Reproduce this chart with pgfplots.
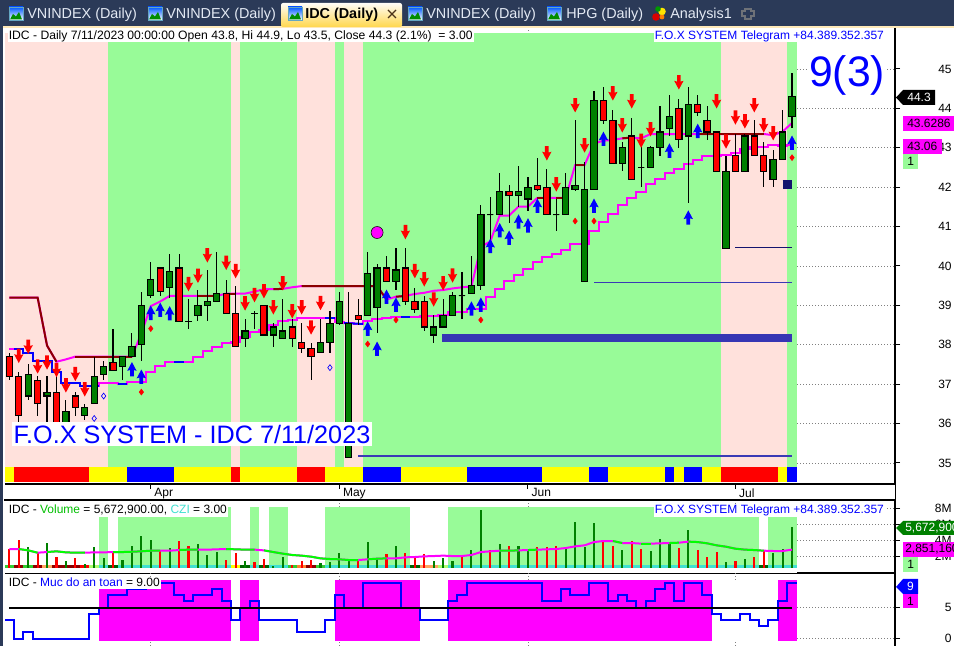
\documentclass[border=0pt]{standalone}
\usepackage{fontspec}
\setmainfont{Liberation Sans}
\usepackage{pgfplots}
\pgfplotsset{compat=1.18}
\usepgfplotslibrary{statistics}

\definecolor{magenta}{HTML}{FF00FF}
\definecolor{yellow}{HTML}{FFFF00}
\definecolor{green}{HTML}{00FF00}
\definecolor{navybar}{HTML}{2B3A58}
\definecolor{cream}{HTML}{FFE9B8}
\definecolor{bandg}{HTML}{98FB98}
\definecolor{bandp}{HTML}{FFE1DC}
\definecolor{cgreen}{HTML}{008000}
\definecolor{dred}{HTML}{8B0000}
\definecolor{barblue}{HTML}{3636B4}
\definecolor{lineblue}{HTML}{3A3AB5}
\definecolor{navyl}{HTML}{14146E}
\definecolor{turq}{HTML}{40E0D0}
\definecolor{limeg}{HTML}{32CD32}
\definecolor{dgreen}{HTML}{006400}
\definecolor{sand}{HTML}{FFA560}
\definecolor{orng}{HTML}{FF7F30}
\definecolor{lightl}{HTML}{ADFF6F}
\definecolor{tabtxt}{HTML}{E4EAF4}

\newcommand\fs[1]{\fontsize{#1}{#1}\selectfont}

% arrows, sizes in pt (1px = 0.75pt)
\pgfdeclareplotmark{dnarrow}{%
  \pgfpathmoveto{\pgfqpoint{-1.4pt}{5.4pt}}
  \pgfpathlineto{\pgfqpoint{1.4pt}{5.4pt}}
  \pgfpathlineto{\pgfqpoint{1.4pt}{0.6pt}}
  \pgfpathlineto{\pgfqpoint{3.5pt}{1.2pt}}
  \pgfpathlineto{\pgfqpoint{0pt}{-5.4pt}}
  \pgfpathlineto{\pgfqpoint{-3.5pt}{1.2pt}}
  \pgfpathlineto{\pgfqpoint{-1.4pt}{0.6pt}}
  \pgfpathclose\pgfusepathqfill}
\pgfdeclareplotmark{uparrow}{%
  \pgfpathmoveto{\pgfqpoint{-1.4pt}{-5.4pt}}
  \pgfpathlineto{\pgfqpoint{1.4pt}{-5.4pt}}
  \pgfpathlineto{\pgfqpoint{1.4pt}{-0.6pt}}
  \pgfpathlineto{\pgfqpoint{3.5pt}{-1.2pt}}
  \pgfpathlineto{\pgfqpoint{0pt}{5.4pt}}
  \pgfpathlineto{\pgfqpoint{-3.5pt}{-1.2pt}}
  \pgfpathlineto{\pgfqpoint{-1.4pt}{-0.6pt}}
  \pgfpathclose\pgfusepathqfill}

% candle: colour, bar, high, body top, body bottom, low
\newcommand\cand[6]{\addplot[forget plot,draw=black,line width=0.85pt,
  boxplot prepared={draw direction=y,draw position=#2,lower whisker=#6,lower quartile=#5,median=#5,upper quartile=#4,upper whisker=#3,box extend=0.66,whisker extend=0},
  boxplot/every box/.style={draw=black,fill=#1},
  boxplot/every whisker/.style={draw=black},
  boxplot/every median/.style={draw=black}] coordinates {};}
\newcommand\ug[5]{\cand{cgreen}{#1}{#2}{#3}{#4}{#5}}
\newcommand\dr[5]{\cand{red}{#1}{#2}{#3}{#4}{#5}}
% filled band: colour, x0, x1, y0, y1
\newcommand\band[5]{\addplot[forget plot,fill=#1,draw=none] coordinates {(#2,#4)(#3,#4)(#3,#5)(#2,#5)} --cycle;}
\newcommand\mb[3]{\band{#1}{#2}{#3}{34.9}{45.91}}
\newcommand\ms[3]{\band{#1}{#2}{#3}{34.52}{34.9}}
\newcommand\vb[2]{\band{bandg}{#1}{#2}{0.63}{8.21}}
\newcommand\cz[3]{\band{#1}{#2}{#3}{0.63}{0.96}}
\newcommand\sfb[2]{\band{magenta}{#1}{#2}{-0.32}{9.41}}

\pgfplotsset{
  panel/.style={scale only axis,width=667.5pt,xmin=-0.459,xmax=93.92,
    anchor=south west,axis x line*=bottom,axis y line*=right,
    axis line style={black,line width=1.1pt},
    tick align=outside,major tick length=3.75pt,
    tick style={black,line width=0.75pt},
    xtick={15,35,55,77},xmajorgrids,ymajorgrids,
    grid style={gray,line width=0.6pt,dash pattern=on 0.75pt off 1.5pt},
    tick label style={font=\fs{9}},
    /pgf/number format/assume math mode=true,
    yticklabel style={anchor=east,xshift=42.25pt}},
}

\begin{document}
\begin{tikzpicture}
\path[use as bounding box,clip] (0,0) rectangle (715.5pt,484.5pt);
\fill[white] (0,0) rectangle (715.5pt,484.5pt);

% price panel
\begin{axis}[panel,at={(3.75pt,121.5pt)},height=342.75pt,ymin=34.467,ymax=46.066,
  ytick={35,36,...,45},xticklabels={Apr,May,Jun,Jul},
  xticklabel style={anchor=north west,xshift=-0.8pt,yshift=3.9pt}]
\mb{bandp}{-0.459}{10.5}
\mb{bandg}{10.5}{23.5}
\mb{bandp}{23.5}{24.5}
\mb{bandg}{24.5}{30.5}
\mb{bandp}{30.5}{34.5}
\mb{bandg}{34.5}{35.5}
\mb{bandp}{35.5}{37.5}
\mb{bandg}{37.5}{75.5}
\mb{bandp}{75.5}{82.5}
\mb{bandg}{82.5}{83.5}
\ms{yellow}{-0.459}{0.5}
\ms{red}{0.5}{8.5}
\ms{yellow}{8.5}{12.5}
\ms{blue}{12.5}{17.5}
\ms{yellow}{17.5}{23.5}
\ms{red}{23.5}{24.5}
\ms{yellow}{24.5}{30.5}
\ms{red}{30.5}{33.5}
\ms{yellow}{33.5}{37.5}
\ms{blue}{37.5}{41.5}
\ms{yellow}{41.5}{48.5}
\ms{blue}{48.5}{56.5}
\ms{yellow}{56.5}{61.5}
\ms{blue}{61.5}{63.5}
\ms{yellow}{63.5}{69.5}
\ms{blue}{69.5}{70.5}
\ms{yellow}{70.5}{71.5}
\ms{blue}{71.5}{73.5}
\ms{yellow}{73.5}{75.5}
\ms{red}{75.5}{81.5}
\ms{yellow}{81.5}{82.5}
\ms{blue}{82.5}{83.5}

% support levels
\addplot[forget plot,barblue,line width=6.5pt] coordinates {(45.9,38.17)(83,38.17)};
\addplot[forget plot,lineblue,line width=0.9pt] coordinates {(62,39.59)(83,39.59)};
\addplot[forget plot,navyl,line width=0.9pt] coordinates {(77,40.47)(83,40.47)};
\addplot[forget plot,lineblue,line width=0.9pt] coordinates {(37,35.18)(83,35.18)};
\addplot[forget plot,navyl,line width=6.5pt] coordinates {(82,42.07)(83,42.07)};

% lower stop line
\addplot[forget plot,magenta,line width=1.5pt,const plot mark mid] coordinates {
(0,37.9)(1,37.9)(2,37.8)(3,37.6)(4,37.6)(5,37.3)(6,37.04)(7,37.04)(8,36.95)(9,36.95)
(10,37.02)(11,37.02)(12,37.0)(13,37.06)(14,37.06)(15,37.32)(16,37.45)(17,37.57)(18,37.57)(19,37.57)
(20,37.7)(21,37.83)(22,37.94)(23,38.05)(24,38.08)(25,38.2)(26,38.33)(27,38.38)(28,38.5)(29,38.6)
(30,38.63)(31,38.67)(32,38.67)(33,38.67)(34,38.67)(35,38.57)(36,38.55)(37,38.53)(38,38.6)(39,38.65)
(40,38.67)(41,38.7)(42,38.7)(43,38.7)(44,38.73)(45,38.73)(46,38.75)(47,38.82)(48,38.84)(49,38.9)
(50,38.9)(51,39.22)(52,39.42)(53,39.63)(54,39.78)(55,39.92)(56,40.11)(57,40.24)(58,40.3)(59,40.41)
(60,40.55)(61,40.55)(62,40.89)(63,41.12)(64,41.32)(65,41.55)(66,41.73)(67,41.87)(68,42.07)(69,42.22)
(70,42.37)(71,42.46)(72,42.59)(73,42.69)(74,42.79)(75,42.79)(76,42.82)(77,42.86)(78,42.96)(79,43.03)
(80,43.03)(81,43.07)(82,43.04)(83,43.06)};
\addplot[forget plot,blue,line width=1.5pt,const plot mark mid] coordinates {
(0.5,37.9)(1,37.9)(2,37.8)(3,37.6)(4,37.6)(5,37.3)(6,37.04)(7,37.04)(8,36.95)(9,36.95)(9.5,36.95)};
\addplot[forget plot,blue,line width=1.5pt] coordinates {(11.5,37.0)(12.5,37.0)};
\addplot[forget plot,blue,line width=1.5pt] coordinates {(17.5,37.57)(18.5,37.57)};
\addplot[forget plot,blue,line width=1.5pt] coordinates {(33.5,38.67)(34.5,38.67)};
\addplot[forget plot,blue,line width=1.5pt] coordinates {(35.5,38.55)(37.5,38.53)};
\addplot[forget plot,blue,line width=1.5pt] coordinates {(41.5,38.7)(42.5,38.7)};

% upper stop line
\addplot[forget plot,magenta,line width=1.5pt] coordinates {
(0,39.2)(3,39.2)(4,37.98)(5,37.57)(6,37.63)(7,37.7)(13,37.7)(14,38.29)(15,38.98)(16,39.1)(17,39.24)
(22,39.24)(23,39.3)(25,39.3)(26,39.35)(27,39.41)(28,39.41)(29,39.42)(30,39.46)(31,39.49)(39,39.49)
(40,39.15)(41,39.22)(42,39.24)(43,39.29)(44,39.32)(45,39.37)(46,39.39)(47,39.43)(48,39.46)(49,39.48)
(50,40.49)(51,40.62)(52,41.28)(53,41.28)(54,41.51)(55,41.51)(56,41.73)(59,41.73)(60,42.56)(61,42.56)
(62,43.11)(63,43.18)(64,43.2)(65,43.24)(66,43.26)(67,43.24)(68,43.35)(80,43.35)(81,43.32)(82,43.41)(83,43.63)};
\addplot[forget plot,dred,line width=1.5pt] coordinates {(0,39.2)(3,39.2)(4,37.98)(5,37.57)};
\addplot[forget plot,dred,line width=1.5pt] coordinates {(7,37.7)(13,37.7)};
\addplot[forget plot,dred,line width=1.5pt] coordinates {(20,39.24)(22,39.24)};
\addplot[forget plot,dred,line width=1.5pt] coordinates {(23,39.3)(24,39.3)};
\addplot[forget plot,dred,line width=1.5pt] coordinates {(28,39.41)(29,39.42)};
\addplot[forget plot,dred,line width=1.5pt] coordinates {(31,39.49)(39,39.49)(40,39.15)};
\addplot[forget plot,dred,line width=1.5pt] coordinates {(41,39.22)(42,39.24)};
\addplot[forget plot,dred,line width=1.5pt] coordinates {(56,41.73)(57,41.73)};
\addplot[forget plot,dred,line width=1.5pt] coordinates {(58,41.73)(59,41.73)};
\addplot[forget plot,dred,line width=1.5pt] coordinates {(60,42.56)(61,42.56)};
\addplot[forget plot,dred,line width=1.5pt] coordinates {(65,43.24)(66,43.26)};
\addplot[forget plot,dred,line width=1.5pt] coordinates {(73,43.35)(80,43.35)};

% candles: bar, high, body top, body bottom, low
\dr{0}{37.8}{37.7}{37.2}{37.1}
\dr{1}{37.3}{37.2}{36.2}{36.0}
\ug{2}{37.5}{37.25}{36.7}{36.6}
\dr{3}{37.2}{37.1}{36.5}{36.2}
\ug{4}{37.2}{36.8}{36.7}{36.0}
\dr{5}{37.4}{36.8}{36.0}{35.9}
\ug{6}{36.6}{36.3}{36.0}{35.9}
\dr{7}{36.8}{36.7}{36.4}{36.2}
\ug{8}{36.5}{36.4}{36.2}{36.1}
\ug{9}{37.7}{37.2}{36.5}{36.5}
\ug{10}{37.6}{37.45}{37.25}{37.1}
\dr{11}{38.4}{37.55}{37.35}{37.35}
\ug{12}{37.7}{37.7}{37.45}{37.1}
\ug{13}{38.3}{37.95}{37.7}{37.7}
\ug{14}{39.35}{39.0}{38.0}{37.6}
\ug{15}{40.1}{39.65}{39.25}{39.2}
\dr{16}{39.95}{39.95}{39.35}{39.25}
\ug{17}{40.3}{39.85}{39.45}{39.2}
\dr{18}{40.3}{39.95}{38.6}{38.6}
\ug{19}{39.15}{38.6}{38.6}{38.4}
\ug{20}{39.4}{39.0}{38.75}{38.6}
\ug{21}{39.9}{39.1}{39.0}{38.6}
\ug{22}{40.35}{39.3}{39.1}{39.1}
\dr{23}{39.65}{39.3}{38.8}{38.8}
\dr{24}{39.5}{38.8}{37.95}{37.95}
\ug{25}{38.65}{38.35}{38.15}{37.95}
\ug{26}{38.85}{38.8}{38.8}{38.4}
\dr{27}{39.0}{39.0}{38.25}{38.25}
\ug{28}{38.55}{38.45}{38.25}{37.95}
\ug{29}{39.15}{38.35}{38.15}{38.15}
\dr{30}{38.65}{38.45}{38.15}{37.95}
\dr{31}{38.55}{38.05}{37.9}{37.8}
\dr{32}{38.05}{37.9}{37.7}{37.1}
\ug{33}{38.65}{38.05}{37.8}{37.8}
\ug{34}{38.85}{38.55}{38.05}{37.8}
\ug{35}{39.35}{39.1}{38.55}{38.5}
\ug{36}{39.35}{38.55}{35.15}{35.15}
\dr{37}{39.15}{38.75}{38.65}{38.5}
\ug{38}{40.35}{39.8}{38.75}{38.75}
\ug{39}{40.05}{39.95}{38.95}{38.3}
\dr{40}{40.25}{39.95}{39.6}{39.6}
\ug{41}{40.45}{39.9}{39.6}{39.4}
\dr{42}{40.45}{39.95}{39.1}{39.0}
\dr{43}{39.45}{39.1}{38.9}{38.8}
\dr{44}{39.25}{39.1}{38.45}{38.35}
\ug{45}{38.75}{38.45}{38.25}{38.05}
\ug{46}{39.15}{38.75}{38.45}{38.45}
\ug{47}{39.35}{39.25}{38.75}{38.75}
\ug{48}{39.85}{39.25}{39.25}{38.65}
\ug{49}{40.25}{39.5}{39.3}{39.3}
\ug{50}{41.55}{41.3}{39.5}{39.4}
\ug{51}{41.75}{41.3}{41.3}{40.6}
\ug{52}{42.35}{41.9}{41.3}{41.3}
\dr{53}{42.05}{41.9}{41.8}{41.1}
\ug{54}{42.55}{41.9}{41.8}{41.5}
\ug{55}{42.25}{42.0}{41.7}{41.4}
\dr{56}{42.75}{42.05}{41.95}{41.9}
\dr{57}{42.45}{42.0}{41.3}{41.3}
\ug{58}{41.7}{41.3}{41.3}{40.9}
\ug{59}{42.35}{42.0}{41.3}{41.3}
\ug{60}{43.7}{42.05}{41.95}{41.9}
\ug{61}{42.65}{41.95}{39.6}{39.6}
\ug{62}{44.45}{44.2}{41.95}{41.95}
\dr{63}{44.55}{44.2}{43.7}{43.6}
\dr{64}{43.95}{43.7}{42.6}{42.6}
\ug{65}{43.15}{43.0}{42.6}{42.4}
\dr{66}{43.75}{43.3}{42.2}{42.2}
\ug{67}{43.3}{42.5}{42.5}{42.0}
\ug{68}{43.05}{43.0}{42.5}{42.5}
\ug{69}{44.05}{43.4}{43.0}{42.8}
\ug{70}{44.35}{43.8}{43.5}{43.3}
\dr{71}{44.25}{44.0}{43.2}{43.0}
\ug{72}{44.55}{44.1}{43.3}{41.6}
\dr{73}{44.35}{44.1}{43.9}{43.8}
\dr{74}{44.05}{43.7}{43.4}{43.2}
\dr{75}{43.4}{43.4}{42.4}{42.4}
\ug{76}{42.8}{42.4}{40.45}{40.45}
\dr{77}{43.35}{42.8}{42.4}{42.4}
\ug{78}{43.35}{43.3}{42.4}{42.4}
\dr{79}{43.7}{43.3}{42.8}{42.8}
\dr{80}{43.15}{42.8}{42.4}{42.0}
\ug{81}{42.95}{42.7}{42.2}{42.0}
\ug{82}{43.95}{43.4}{42.7}{42.7}
\ug{83}{44.9}{44.3}{43.8}{43.5}

% signals
\addplot[forget plot,only marks,mark=dnarrow,mark options={fill=red,draw=none}] coordinates {
(1,37.72)(2,37.95)(3,37.45)(4,37.55)(5,37.36)(6,36.97)(7,37.26)(8,36.87)
(19,39.54)(20,39.75)(21,40.27)(23,40.08)(24,39.87)(25,39.05)(26,39.26)(27,39.36)(28,38.95)(29,39.56)
(30,38.85)(31,38.95)(32,38.44)(33,39.06)(42,40.86)(43,39.87)(44,39.66)(45,39.15)(46,39.56)(47,39.76)
(57,42.86)(58,42.07)(60,44.08)(61,43.06)(64,44.38)(65,43.57)(66,44.18)(67,43.18)(68,43.47)(71,44.66)
(75,44.18)(76,43.16)(77,43.77)(78,43.67)(79,44.08)(80,43.57)(81,43.37)};
\addplot[forget plot,only marks,mark=uparrow,mark options={fill=blue,draw=none}] coordinates {
(13,37.38)(14,37.19)(15,38.81)(16,38.89)(17,38.8)(38,38.41)(39,37.9)(40,39.22)(41,39.02)
(49,38.92)(50,39.02)(51,40.51)(52,40.91)(53,40.72)(54,41.13)(55,41.03)(56,41.53)(62,41.53)(63,43.23)
(70,42.93)(72,41.23)(73,43.43)(83,43.13)};
\addplot[forget plot,only marks,mark=diamond*,mark size=2.2pt,mark options={fill=red,draw=red}] coordinates {
(14,36.8)(15,38.41)(38,38.02)(41,38.63)(50,38.63)(60,41.14)(62,41.14)(83,42.75)};
\addplot[forget plot,only marks,mark=diamond,mark size=2.2pt,mark options={draw=blue,line width=0.5pt}] coordinates {
(9,36.13)(10,36.7)(34,37.42)};
\addplot[forget plot,only marks,mark=*,mark size=4.5pt,mark options={fill=magenta,draw=none}] coordinates {(39,40.85)};
\end{axis}

% volume panel
\begin{axis}[panel,at={(3.75pt,54.75pt)},height=54.75pt,ymin=-0.04,ymax=9.09,
  ytick={2,4,6,8},yticklabels={2M,4M,6M,8M},xticklabel=\empty,x tick style={draw=none}]
\band{white}{-0.459}{83.5}{0.63}{8.21}
\vb{9.5}{10.5}
\vb{11.5}{23.5}
\vb{25.5}{26.5}
\vb{27.5}{29.5}
\vb{33.5}{42.5}
\vb{46.5}{79.5}
\vb{80.5}{83.5}
\cz{limeg}{-0.459}{0.5}
\cz{dred}{0.5}{1.5}
\cz{limeg}{1.5}{2.5}
\cz{dred}{2.5}{3.5}
\cz{sand}{3.5}{4.5}
\cz{dred}{4.5}{7.5}
\cz{red}{7.5}{8.5}
\cz{lightl}{8.5}{9.5}
\cz{turq}{9.5}{10.5}
\cz{dgreen}{10.5}{11.5}
\cz{turq}{11.5}{23.5}
\cz{yellow}{23.5}{24.5}
\cz{dgreen}{24.5}{25.5}
\cz{turq}{25.5}{26.5}
\cz{dgreen}{26.5}{27.5}
\cz{turq}{27.5}{29.5}
\cz{limeg}{29.5}{30.5}
\cz{orng}{30.5}{31.5}
\cz{dred}{31.5}{32.5}
\cz{limeg}{32.5}{33.5}
\cz{turq}{33.5}{42.5}
\cz{dgreen}{42.5}{43.5}
\cz{sand}{43.5}{45.5}
\cz{lightl}{45.5}{46.5}
\cz{turq}{46.5}{79.5}
\cz{dgreen}{79.5}{80.5}
\cz{turq}{80.5}{83.5}
\addplot[forget plot,ycomb,red,line width=1.6pt,mark=none] coordinates {
(0,2.96)(1,4.08)(3,2.5)(5,1.96)(7,1.83)(11,2.7)(16,2.7)(18,3.96)(19,3.33)(23,1.58)(24,2.46)(26,1.33)(27,1.7)
(30,0.96)(31,1.46)(32,1.58)(37,1.58)(40,2.33)(42,2.46)(43,1.92)(44,2.33)(48,2.0)(51,2.83)(53,3.33)(56,3.2)
(57,3.2)(58,3.33)(63,3.96)(64,3.33)(66,3.96)(67,2.96)(71,3.08)(73,2.83)(74,1.96)(75,2.58)(77,1.46)(79,1.96)(80,2.83)};
\addplot[forget plot,ycomb,cgreen,line width=1.6pt,mark=none] coordinates {
(2,3.2)(4,3.7)(6,1.46)(8,1.08)(9,3.2)(10,1.83)(12,1.6)(13,3.33)(14,4.58)(15,4.08)(17,3.08)(20,3.58)(21,2.2)(22,2.58)
(25,1.46)(28,0.83)(29,1.96)(33,1.17)(34,1.33)(35,2.46)(36,1.46)(38,3.83)(39,1.7)(41,3.33)(45,1.46)(46,1.83)(47,1.46)
(49,2.83)(50,7.83)(52,3.58)(54,3.33)(55,2.83)(59,2.96)(60,6.33)(61,3.2)(62,6.2)(65,2.83)(68,2.7)(69,4.2)(70,3.7)
(72,5.33)(76,1.33)(78,1.7)(81,2.46)(82,2.96)(83,5.7)};
\band{white}{-0.459}{83.5}{-0.04}{0.63}
% volume average
\addplot[forget plot,magenta,line width=1.5pt] coordinates {
(0,2.96)(1,2.96)(2,2.79)(3,2.5)(4,2.58)(5,2.67)(6,2.54)(7,2.5)(8,2.5)(9,2.54)(10,2.54)(11,2.58)(12,2.58)(13,2.62)
(14,2.67)(15,2.75)(16,2.75)(17,2.75)(18,2.83)(19,2.88)(20,2.88)(21,2.88)(22,2.92)(23,2.96)(24,2.92)(25,2.88)(26,2.88)
(27,2.79)(28,2.58)(29,2.38)(30,2.21)(31,2.13)(32,2.0)(33,1.79)(34,1.71)(35,1.67)(36,1.58)(37,1.58)(38,1.67)(39,1.75)
(40,1.79)(41,1.79)(42,1.92)(43,1.96)(44,2.04)(45,2.08)(46,2.13)(47,2.08)(48,2.08)(49,2.21)(50,2.58)(51,2.67)(52,2.75)
(53,2.75)(54,2.79)(55,2.83)(56,2.88)(57,2.92)(58,2.96)(59,3.08)(60,3.29)(61,3.42)(62,3.83)(63,3.96)(64,3.96)(65,3.71)
(66,3.71)(67,3.63)(68,3.63)(69,3.67)(70,3.71)(71,3.75)(72,3.88)(73,3.83)(74,3.67)(75,3.42)(76,3.25)(77,3.0)(78,2.88)
(79,2.83)(80,2.75)(81,2.71)(82,2.71)(83,2.88)};
\addplot[forget plot,green,line width=1.5pt] coordinates {(1,2.96)(2,2.79)(3,2.5)};
\addplot[forget plot,green,line width=1.5pt] coordinates {(4,2.58)(5,2.67)(6,2.54)(7,2.5)(8,2.5)};
\addplot[forget plot,green,line width=1.5pt] coordinates {(11,2.58)(12,2.58)(13,2.62)(14,2.67)(15,2.75)(16,2.75)};
\addplot[forget plot,green,line width=1.5pt] coordinates {(18,2.83)(19,2.88)(20,2.88)};
\addplot[forget plot,green,line width=1.5pt] coordinates {(23,2.96)(24,2.92)(25,2.88)(26,2.88)};
\addplot[forget plot,green,line width=1.5pt] coordinates {(27,2.79)(28,2.58)(29,2.38)(30,2.21)(31,2.13)(32,2.0)(33,1.79)(34,1.71)(35,1.67)(36,1.58)(37,1.58)};
\addplot[forget plot,green,line width=1.5pt] coordinates {(38,1.67)(39,1.75)(40,1.79)};
\addplot[forget plot,green,line width=1.5pt] coordinates {(52,2.75)(53,2.75)(54,2.79)};
\addplot[forget plot,green,line width=1.5pt] coordinates {(55,2.83)(56,2.88)};
\addplot[forget plot,green,line width=1.5pt] coordinates {(64,3.96)(65,3.71)};
\addplot[forget plot,green,line width=1.5pt] coordinates {(67,3.63)(68,3.63)};
\addplot[forget plot,green,line width=1.5pt] coordinates {(70,3.71)(71,3.75)};
\addplot[forget plot,green,line width=1.5pt] coordinates {(72,3.88)(73,3.83)(74,3.67)(75,3.42)(76,3.25)(77,3.0)(78,2.88)(79,2.83)(80,2.75)};
\end{axis}

% safety level panel
\begin{axis}[panel,at={(3.75pt,0pt)},height=54.75pt,ymin=-1.17,ymax=10.55,
  ytick={0,5},xticklabel=\empty,x tick style={draw=none},x axis line style={draw=none}]
\band{white}{-0.459}{83.5}{-0.32}{9.41}
\sfb{9.5}{23.5}
\sfb{24.5}{26.5}
\sfb{34.5}{43.5}
\sfb{46.5}{74.5}
\sfb{81.5}{83.5}
\addplot[forget plot,blue,line width=1.5pt,const plot mark mid] coordinates {
(-0.45,3)(0,3)(1,0)(2,1)(3,0)(4,0)(5,0)(6,0)(7,0)(8,0)(9,4)(10,5)(11,7)(12,7)(13,8)(14,8)(15,9)(16,9)(17,9)
(18,7)(19,6)(20,7)(21,7)(22,8)(23,6)(24,3)(25,5)(26,6)(27,3)(28,3)(29,3)(30,3)(31,1)(32,1)(33,1)(34,3)(35,7)
(36,5)(37,5)(38,9)(39,9)(40,9)(41,9)(42,5)(43,5)(44,3)(45,3)(46,3)(47,6)(48,7)(49,9)(50,9)(51,9)(52,9)(53,9)
(54,9)(55,9)(56,9)(57,6)(58,6)(59,8)(60,7)(61,7)(62,9)(63,9)(64,6)(65,7)(66,6)(67,5)(68,6)(69,8)(70,9)(71,6)
(72,9)(73,9)(74,7)(75,4)(76,3)(77,3)(78,4)(79,3)(80,2)(81,3)(82,6)(83,9)(83.5,9)};
\addplot[forget plot,black,line width=1.5pt] coordinates {(0,5)(83,5)};
\end{axis}

% window chrome and labels, in image pixels measured from the top left
\begin{scope}[x=0.75pt,y=-0.75pt,yshift=484.5pt,
  lab/.style={anchor=west,font=\fs{9},fill=white,inner xsep=0.75pt,inner ysep=0pt,text height=7.2pt,text depth=2pt}]
\fill[navybar] (0,0) rectangle (954,26);
\fill[navybar] (0,0) rectangle (3,646);
\fill[cream] (3,26) rectangle (954,28);
\draw[black,line width=1.1pt] (895.5,28) -- (895.5,646);
\draw[black,line width=1.1pt] (4,500) -- (895.5,500);

% tabs
\shade[top color=white!90!cream,bottom color=orange!45!yellow!70!white,rounded corners=1.5pt] (281,3) rectangle (402,27);
\newcommand\tabicon[1]{%
  \shade[top color=blue!65!cyan,bottom color=white,draw=cyan!50!gray,line width=0.5pt] (#1,7) rectangle ++(14,13);
  \fill[green!55!black] (#1+1,19.5) -- (#1+4,14) -- (#1+7,16.5) -- (#1+10,12) -- (#1+13,19.5) -- cycle;}
\tabicon{9}\tabicon{148}\tabicon{288}\tabicon{408}\tabicon{547}
\fill[red!85!black] (656,17) circle (3.8);
\fill[yellow!80!orange] (662,11.5) circle (3.8);
\fill[green!60!black] (658,9) circle (2.8);
\fill[orange] (662,17) circle (2.4);
\draw[gray!80!navybar,line width=0.9pt] (745,9) -- (751,9) -- (751,11) -- (754,11) -- (754,16) -- (751,16) -- (751,19) -- (745,19) -- (745,16) -- (742,16) -- (742,11) -- (745,11) -- cycle;
\foreach \x/\t in {27/VNINDEX (Daily),166/VNINDEX (Daily),426/VNINDEX (Daily),566/HPG (Daily),670/Analysis1}
  \node[anchor=west,inner sep=0pt,text=tabtxt,font=\fs{10.8}] at (\x,14.5) {\t};
\node[anchor=west,inner sep=0pt,font=\fs{10.8}\bfseries] at (305,14.5) {IDC (Daily)};
\draw[black!60!brown,line width=1pt] (388,10) -- (396,18) (396,10) -- (388,18);

% panel captions
\node[lab,font=\fs{9.12}] at (7.5,36) {IDC - Daily 7/11/2023 00:00:00 Open 43.8, Hi 44.9, Lo 43.5, Close 44.3 (2.1\%) \ = 3.00};
\node[lab,text=blue] at (653.5,36) {F.O.X SYSTEM Telegram +84.389.352.357};
\node[anchor=west,fill=white,inner sep=0pt,text=blue,font=\fs{32},text height=22pt,text depth=1pt] at (809,73) {9(3)};
\node[anchor=west,fill=white,inner xsep=1pt,inner ysep=2pt,text=blue,font=\fs{18.9}] at (12,434) {F.O.X SYSTEM - IDC 7/11/2023};
\node[lab] at (7.5,510.5) {IDC - {\color{green!75!black}Volume} = 5,672,900.00, {\color{turq}CZI} = 3.00};
\node[lab,text=blue] at (653.5,510.5) {F.O.X SYSTEM Telegram +84.389.352.357};
\node[lab] at (7.5,583) {IDC - {\color{blue}Muc do an toan} = 9.00};

% value tags at the right
\fill[black] (896,97.5) -- (903,90) -- (935,90) -- (935,105) -- (903,105) -- cycle;
\node[inner sep=0pt,text=white,font=\fs{9}] at (919,97.5) {44.3};
\fill[magenta] (903,116) rectangle (954,131);
\node[anchor=west,inner sep=0pt,font=\fs{9}] at (907,123.5) {43.6286};
\fill[magenta] (903,139) rectangle (942,154);
\node[anchor=west,inner sep=0pt,font=\fs{9}] at (907,146.5) {43.06};
\fill[bandg] (903,154) rectangle (918,169);
\node[anchor=west,inner sep=0pt,font=\fs{9}] at (907,161.5) {1};
\fill[cgreen] (896,528) -- (903,521) -- (954,521) -- (954,535) -- (903,535) -- cycle;
\node[anchor=west,inner sep=0pt,text=white,font=\fs{9}] at (905,528) {5,672,900};
\fill[magenta] (903,542) rectangle (954,557);
\node[anchor=west,inner sep=0pt,font=\fs{9}] at (905,549.5) {2,851,160};
\fill[bandg] (903,557) rectangle (918,572);
\node[anchor=west,inner sep=0pt,font=\fs{9}] at (907,564.5) {1};
\fill[blue] (896,587) -- (903,579) -- (918,579) -- (918,594) -- (903,594) -- cycle;
\node[inner sep=0pt,text=white,font=\fs{9}] at (910.5,586.5) {9};
\fill[magenta] (903,594) rectangle (918,608);
\node[inner sep=0pt,font=\fs{9}] at (910.5,601) {1};
\end{scope}
\end{tikzpicture}
\end{document}
